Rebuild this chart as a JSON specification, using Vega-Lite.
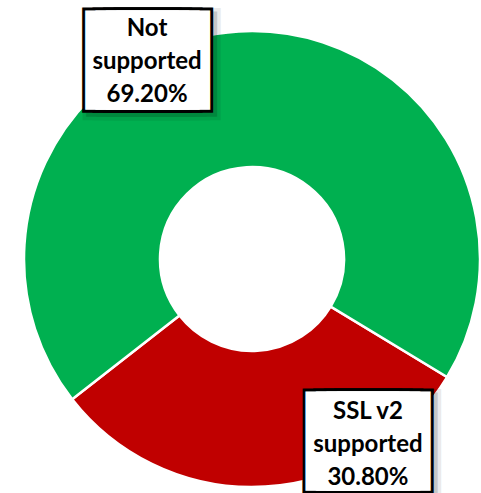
{
  "$schema": "https://vega.github.io/schema/vega-lite/v6.json",
  "width": 458,
  "height": 468,
  "autosize": {"type": "none"},
  "padding": {"left": 23, "top": 25, "right": 0, "bottom": 0},
  "background": "white",
  "view": {"stroke": null},
  "data": {
    "values": [
      {"category": "SSL v2 supported", "value": 30.8, "label": "SSL v2|supported|30.80%"},
      {"category": "Not supported", "value": 69.2, "label": "Not|supported|69.20%"}
    ]
  },
  "encoding": {
    "theta": {"field": "value", "type": "quantitative", "stack": true, "scale": {"range": [2.115, 8.398]}},
    "order": {"field": "category", "sort": "descending"}
  },
  "layer": [
    {
      "mark": {"type": "arc", "outerRadius": 228, "innerRadius": 92, "stroke": "white", "strokeWidth": 2.5},
      "encoding": {
        "color": {"field": "category", "type": "nominal", "scale": {"domain": ["Not supported", "SSL v2 supported"], "range": ["#00B050", "#C00000"]}, "legend": null}
      }
    },
    {
      "mark": {"type": "text", "radius": 160, "text": "████", "font": "DejaVu Sans", "fontSize": 13.6, "fill": "black", "stroke": "black", "opacity": 0.08, "strokeWidth": 96, "strokeJoin": "miter",
        "dx": {"expr": "datum.category == 'Not supported' ? -91 : 110.5"},
        "dy": {"expr": "datum.category == 'Not supported' ? -34.3 : 27.3"}}
    },
    {
      "mark": {"type": "text", "radius": 160, "text": "████", "font": "DejaVu Sans", "fontSize": 13.6, "fill": "black", "stroke": "black", "opacity": 0.15, "strokeWidth": 89, "strokeJoin": "miter",
        "dx": {"expr": "datum.category == 'Not supported' ? -91 : 110.5"},
        "dy": {"expr": "datum.category == 'Not supported' ? -34.3 : 27.3"}}
    },
    {
      "mark": {"type": "text", "radius": 160, "text": "████", "font": "DejaVu Sans", "fontSize": 13.6, "fill": "black", "stroke": "black", "strokeWidth": 89, "strokeJoin": "miter",
        "dx": {"expr": "datum.category == 'Not supported' ? -95 : 106.5"},
        "dy": {"expr": "datum.category == 'Not supported' ? -38.3 : 23.3"}}
    },
    {
      "mark": {"type": "text", "radius": 160, "text": "████", "font": "DejaVu Sans", "fontSize": 13.6, "fill": "white", "stroke": "white", "strokeWidth": 83, "strokeJoin": "miter",
        "dx": {"expr": "datum.category == 'Not supported' ? -95 : 106.5"},
        "dy": {"expr": "datum.category == 'Not supported' ? -38.3 : 23.3"}}
    },
    {
      "mark": {"type": "text", "radius": 160, "font": "Lato", "fontWeight": "bold", "fontSize": 24, "lineHeight": 33, "lineBreak": "|", "fill": "black",
        "dx": {"expr": "datum.category == 'Not supported' ? -95.5 : 106.5"},
        "dy": {"expr": "datum.category == 'Not supported' ? -70 : -6.7"}},
      "encoding": {"text": {"field": "label"}}
    }
  ]
}
